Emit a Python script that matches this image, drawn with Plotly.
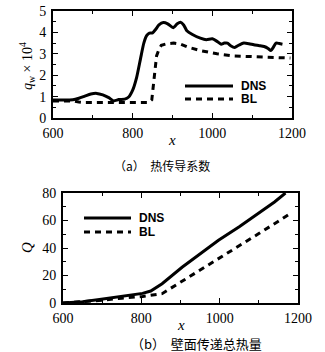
import plotly.graph_objects as go

# ---- data (a) heat transfer coefficient q_w x 10^4 ----
dns_a_x = [600, 620, 650, 665, 680, 695, 710, 725, 740, 752, 765, 780, 790, 800, 810, 820, 828, 835, 842, 850,
           858, 866, 877, 888, 902, 912, 920, 928, 936, 950, 970, 985, 1000, 1012, 1022, 1030, 1038, 1046, 1056,
           1066, 1079, 1092, 1104, 1118, 1130, 1140, 1147, 1153, 1160, 1168, 1176]
dns_a_y = [0.84, 0.84, 0.85, 0.92, 1.02, 1.12, 1.15, 1.08, 0.95, 0.8, 0.86, 0.88, 0.98, 1.3, 1.9, 2.8, 3.5, 3.85, 3.97, 3.98,
           4.15, 4.35, 4.46, 4.4, 4.22, 4.4, 4.47, 4.35, 4.08, 3.9, 3.73, 3.66, 3.7, 3.58, 3.45, 3.5, 3.5, 3.38, 3.3,
           3.4, 3.5, 3.47, 3.42, 3.38, 3.34, 3.25, 3.15, 3.3, 3.5, 3.48, 3.45]
bl_a_x = [600, 650, 665, 680, 700, 760, 800, 840, 848, 852, 856, 860, 866, 872, 886, 903, 920, 936, 970, 1012, 1054, 1100, 1138, 1196]
bl_a_y = [0.8, 0.8, 0.75, 0.72, 0.72, 0.72, 0.72, 0.72, 0.85, 1.6, 2.5, 2.9, 3.2, 3.4, 3.47, 3.5, 3.45, 3.33, 3.15, 3.0, 2.9, 2.86, 2.84, 2.8]

# ---- data (b) total wall heat Q ----
dns_b_x = [600, 650, 693, 750, 803, 824, 853, 904, 950, 997, 1050, 1100, 1140, 1168]
dns_b_y = [0, 1, 2.5, 5, 7, 8.7, 14, 26, 36, 45.6, 55.5, 65.5, 73.5, 80]
bl_b_x = [600, 650, 700, 750, 803, 853, 900, 947, 1000, 1031, 1100, 1150, 1183]
bl_b_y = [0, 0.8, 2, 3.5, 4.8, 6.8, 15, 23.8, 33, 38.3, 50.5, 59.5, 65.5]

x_ticks = [600, 800, 1000, 1200]
ya_ticks = [0, 1, 2, 3, 4, 5]
yb_ticks = [0, 20, 40, 60, 80]

W, H = 325, 352
serif = "Liberation Serif"
sans = "Liberation Sans"

fig = go.Figure()
line_solid = dict(color="black", width=3)
line_dash = dict(color="black", width=3, dash="6px,5px")

fig.add_trace(go.Scatter(x=dns_a_x, y=dns_a_y, mode="lines", line=dict(color="black", width=3, shape="spline", smoothing=0.6),
                         xaxis="x", yaxis="y", showlegend=False))
fig.add_trace(go.Scatter(x=bl_a_x, y=bl_a_y, mode="lines", line=line_dash, xaxis="x", yaxis="y", showlegend=False))
fig.add_trace(go.Scatter(x=dns_b_x, y=dns_b_y, mode="lines", line=line_solid, xaxis="x2", yaxis="y2", showlegend=False))
fig.add_trace(go.Scatter(x=bl_b_x, y=bl_b_y, mode="lines", line=line_dash, xaxis="x2", yaxis="y2", showlegend=False))

def px2paper_x(p):
    return p / W

def px2paper_y(p):
    return 1 - p / H

common_axis = dict(showgrid=False, zeroline=False, showline=True, linecolor="black", linewidth=2, mirror="allticks",
                   ticks="inside", ticklen=5, tickwidth=1.2, tickcolor="black", automargin=False,
                   tickfont=dict(family=serif, size=14, color="black"))

fig.update_layout(
    template="none",
    width=W, height=H, margin=dict(l=0, r=0, t=0, b=0, autoexpand=False),
    plot_bgcolor="white", paper_bgcolor="white", showlegend=False,
    xaxis=dict(domain=[53 / W, 292 / W], range=[600, 1200], tickvals=x_ticks, anchor="y", ticklabelstandoff=1,
               minor=dict(ticks="inside", ticklen=3, dtick=100, tickcolor="black"), **common_axis),
    yaxis=dict(domain=[px2paper_y(118), px2paper_y(11)], range=[0, 5], tickvals=ya_ticks, anchor="x", ticklabelstandoff=2,
               minor=dict(ticks="inside", ticklen=3, dtick=0.5, tickcolor="black"), **common_axis),
    xaxis2=dict(domain=[63 / W, 298 / W], range=[600, 1200], tickvals=x_ticks, anchor="y2", ticklabelstandoff=1,
                minor=dict(ticks="inside", ticklen=3, dtick=100, tickcolor="black"), **common_axis),
    yaxis2=dict(domain=[px2paper_y(303), px2paper_y(193)], range=[0, 80], tickvals=yb_ticks, anchor="x2", ticklabelstandoff=2,
                minor=dict(ticks="inside", ticklen=3, dtick=10, tickcolor="black"), **common_axis),
)

def note(text, xp, yp, font, xanchor="center", angle=0):
    return dict(text=text, x=px2paper_x(xp), y=px2paper_y(yp), xref="paper", yref="paper",
                xanchor=xanchor, yanchor="middle", textangle=angle, showarrow=False, font=font)

ann = []
# axis titles
ann.append(note("<i>q</i><sub>w</sub> × 10<sup>4</sup>", 27, 66, dict(family=serif, size=14, color="black"), angle=-90))
ann.append(note("<i>x</i>", 172, 140, dict(family=serif, size=15, color="black")))
ann.append(note("<i>Q</i>", 27, 248, dict(family=serif, size=15, color="black"), angle=-90))
ann.append(note("<i>x</i>", 181, 325, dict(family=serif, size=15, color="black")))
# captions
ann.append(note("（a）  热传导系数", 162, 165, dict(family="Noto Sans CJK SC", size=12, color="black")))
ann.append(note("（b）  壁面传递总热量", 196, 343, dict(family="Noto Sans CJK SC", size=13, color="black")))
# legend labels
lf = dict(family=sans, size=12, color="black")
ann.append(note("<b>DNS</b>", 239, 86, lf, xanchor="left"))
ann.append(note("<b>BL</b>", 239, 99, lf, xanchor="left"))
ann.append(note("<b>DNS</b>", 137, 218, lf, xanchor="left"))
ann.append(note("<b>BL</b>", 137, 232, lf, xanchor="left"))
fig.update_layout(annotations=ann)

shapes = [
    dict(type="line", xref="paper", yref="paper", x0=px2paper_x(185), x1=px2paper_x(233), y0=px2paper_y(86), y1=px2paper_y(86),
         line=dict(color="black", width=3)),
    dict(type="line", xref="paper", yref="paper", x0=px2paper_x(185), x1=px2paper_x(233), y0=px2paper_y(99), y1=px2paper_y(99),
         line=dict(color="black", width=3, dash="6px,5px")),
    dict(type="line", xref="paper", yref="paper", x0=px2paper_x(84), x1=px2paper_x(131), y0=px2paper_y(218), y1=px2paper_y(218),
         line=dict(color="black", width=3)),
    dict(type="line", xref="paper", yref="paper", x0=px2paper_x(84), x1=px2paper_x(131), y0=px2paper_y(232), y1=px2paper_y(232),
         line=dict(color="black", width=3, dash="6px,5px")),
]
fig.update_layout(shapes=shapes)

fig.write_html("out.html", config={"displayModeBar": False},
               post_script="document.body.style.margin='0';document.body.style.overflow='hidden';")
